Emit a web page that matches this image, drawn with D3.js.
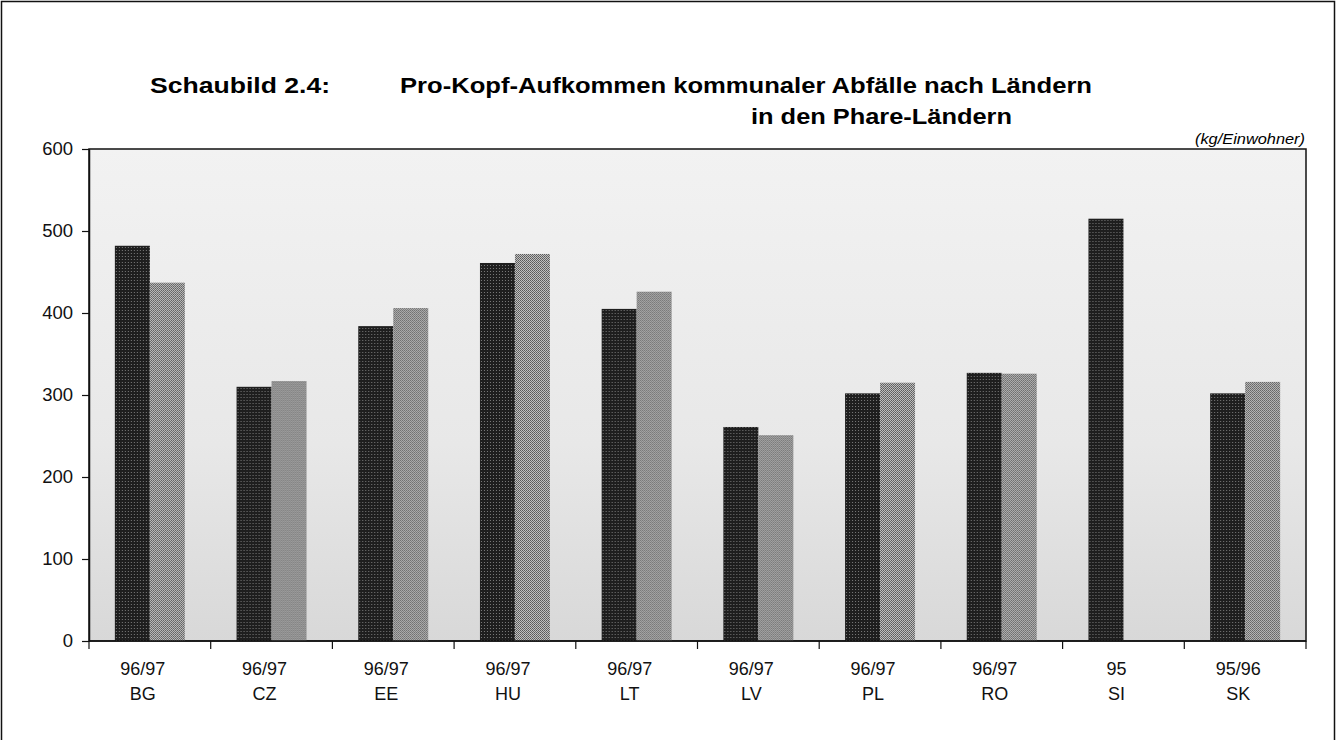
<!DOCTYPE html>
<html>
<head>
<meta charset="utf-8">
<script src="https://cdn.jsdelivr.net/npm/d3@7"></script>
<style>
  body { margin: 0; background: #fff; }
  svg { display: block; font-family: "Liberation Sans", Arial, sans-serif; }
</style>
</head>
<body>
<div id="chart"></div>
<script>
// Data
const years = ['96/97', '96/97', '96/97', '96/97', '96/97', '96/97', '96/97', '96/97', '95', '95/96'];
const countries = ['BG', 'CZ', 'EE', 'HU', 'LT', 'LV', 'PL', 'RO', 'SI', 'SK'];
const darkValues = [482, 310, 384, 461, 405, 261, 302, 327, 515, 302];
const lightValues = [437, 317, 406, 472, 426, 251, 315, 326, null, 316];
const yTicks = [0, 100, 200, 300, 400, 500, 600];

const width = 1336, height = 740;
const plot = { left: 89, right: 1306, top: 149, bottom: 641 };

const svg = d3.select('#chart')
    .append('svg')
    .attr('width', width)
    .attr('height', height);

// halftone-ish fills
const defs = svg.append('defs');
const bg = defs.append('linearGradient')
    .attr('id', 'bgGrad')
    .attr('x1', 0).attr('y1', 0).attr('x2', 0).attr('y2', 1);
bg.append('stop').attr('offset', '0%').attr('stop-color', '#f2f2f2');
bg.append('stop').attr('offset', '60%').attr('stop-color', '#e8e8e8');
bg.append('stop').attr('offset', '100%').attr('stop-color', '#d8d8d8');

const darkPat = defs.append('pattern')
    .attr('id', 'darkPat')
    .attr('width', 3).attr('height', 3)
    .attr('patternUnits', 'userSpaceOnUse');
darkPat.append('rect').attr('width', 3).attr('height', 3).attr('fill', '#1e1e1e');
darkPat.append('rect').attr('x', 1).attr('y', 1).attr('width', 1).attr('height', 1).attr('fill', '#7a7a7a');

const lightPat = defs.append('pattern')
    .attr('id', 'lightPat')
    .attr('width', 2).attr('height', 2)
    .attr('patternUnits', 'userSpaceOnUse');
lightPat.append('rect').attr('width', 2).attr('height', 2).attr('fill', '#c4c4c4');
lightPat.append('rect').attr('width', 1).attr('height', 1).attr('fill', '#555');
lightPat.append('rect').attr('x', 1).attr('y', 1).attr('width', 1).attr('height', 1).attr('fill', '#666');

// outer frame
svg.append('rect')
    .attr('x', 1.5).attr('y', 1.5)
    .attr('width', width - 3).attr('height', height + 10)
    .attr('fill', 'none')
    .attr('stroke', '#111')
    .attr('stroke-width', 1.5);

// titles
svg.append('text')
    .attr('x', 150).attr('y', 93)
    .attr('font-size', 22).attr('font-weight', 'bold')
    .attr('textLength', 180).attr('lengthAdjust', 'spacingAndGlyphs')
    .text('Schaubild 2.4:');

svg.append('text')
    .attr('x', 400).attr('y', 93)
    .attr('font-size', 22).attr('font-weight', 'bold')
    .attr('textLength', 692).attr('lengthAdjust', 'spacingAndGlyphs')
    .text('Pro-Kopf-Aufkommen kommunaler Abfälle nach Ländern');

svg.append('text')
    .attr('x', 751).attr('y', 124)
    .attr('font-size', 22).attr('font-weight', 'bold')
    .attr('textLength', 261).attr('lengthAdjust', 'spacingAndGlyphs')
    .text('in den Phare-Ländern');

svg.append('text')
    .attr('x', 1305).attr('y', 144)
    .attr('font-size', 15.5).attr('font-style', 'italic')
    .attr('text-anchor', 'end')
    .attr('textLength', 110).attr('lengthAdjust', 'spacingAndGlyphs')
    .text('(kg/Einwohner)');

// scales
const x0 = d3.scaleBand()
    .domain(countries)
    .range([plot.left, plot.right])
    .padding(0);

const x1 = d3.scaleBand()
    .domain(['dark', 'light'])
    .range([0, x0.bandwidth() * 0.575])
    .padding(0);

const groupOffset = (x0.bandwidth() - x1.range()[1]) / 2;

const y = d3.scaleLinear()
    .domain([0, 600])
    .range([plot.bottom, plot.top]);

// plot background
svg.append('rect')
    .attr('x', plot.left).attr('y', plot.top)
    .attr('width', plot.right - plot.left)
    .attr('height', plot.bottom - plot.top)
    .attr('fill', 'url(#bgGrad)')
    .attr('stroke', '#111')
    .attr('stroke-width', 1.5);

// bars
const rows = countries.map((c, i) => ({ country: c, dark: darkValues[i], light: lightValues[i] }));

const groups = svg.append('g')
    .selectAll('g')
    .data(rows)
    .join('g')
    .attr('transform', d => `translate(${x0(d.country) + groupOffset},0)`);

groups.selectAll('rect')
    .data(d => ['dark', 'light'].filter(k => d[k] != null).map(k => ({ key: k, value: d[k] })))
    .join('rect')
    .attr('x', d => x1(d.key))
    .attr('y', d => y(d.value))
    .attr('width', x1.bandwidth())
    .attr('height', d => y(0) - y(d.value))
    .attr('fill', d => d.key === 'dark' ? 'url(#darkPat)' : 'url(#lightPat)');

// y axis
const yAxis = svg.append('g')
    .attr('transform', `translate(${plot.left},0)`)
    .call(d3.axisLeft(y).tickValues(yTicks).tickSize(7).tickSizeOuter(0).tickPadding(9));
yAxis.select('.domain').attr('stroke', '#111').attr('stroke-width', 1.5);
yAxis.selectAll('.tick line').attr('stroke', '#111').attr('stroke-width', 1.2);
yAxis.selectAll('.tick text')
    .attr('font-size', 18.5)
    .attr('font-family', '"Liberation Sans", Arial, sans-serif')
    .attr('fill', '#111');

// x axis with ticks at category boundaries
const boundaries = countries.map(c => x0(c)).concat([plot.right]);
svg.append('line')
    .attr('x1', plot.left).attr('x2', plot.right)
    .attr('y1', plot.bottom).attr('y2', plot.bottom)
    .attr('stroke', '#111').attr('stroke-width', 1.5);
svg.append('g')
    .selectAll('line')
    .data(boundaries)
    .join('line')
    .attr('x1', d => d).attr('x2', d => d)
    .attr('y1', plot.bottom).attr('y2', plot.bottom + 8)
    .attr('stroke', '#111').attr('stroke-width', 1.2);

const labelX = d => x0(d) + x0.bandwidth() / 2 - 7;
const labels = svg.append('g')
    .attr('font-size', 18)
    .attr('fill', '#111')
    .attr('text-anchor', 'middle')
    .selectAll('text')
    .data(countries)
    .join('text')
    .attr('x', labelX)
    .attr('y', 675);
labels.append('tspan').text((d, i) => years[i]);
labels.append('tspan')
    .attr('x', labelX)
    .attr('dy', 25)
    .text(d => d);
</script>
</body>
</html>
